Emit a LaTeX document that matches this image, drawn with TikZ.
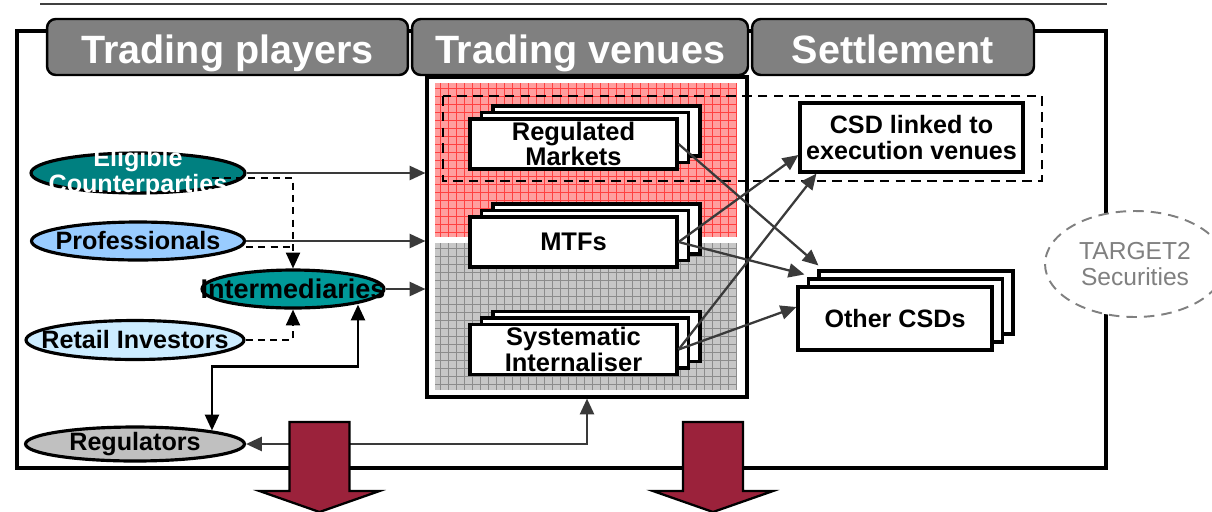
\documentclass[tikz,border=0pt]{standalone}
\usepackage{fontspec}
\setmainfont{Liberation Sans}
\usetikzlibrary{arrows.meta,shapes,shadows}

\definecolor{tabgray}{HTML}{808080}
\definecolor{ecpteal}{HTML}{008080}
\definecolor{intteal}{HTML}{009999}
\definecolor{problue}{HTML}{99CCFF}
\definecolor{retblue}{HTML}{CCECFF}
\definecolor{reggray}{HTML}{C0C0C0}
\definecolor{linkgray}{HTML}{3A3A3A}
\definecolor{bigred}{HTML}{9B223B}

\begin{document}
\begin{tikzpicture}[x=0.02cm,y=-0.02cm,>={Triangle[length=9pt,width=8pt]},
  tab/.style={draw,line width=1.4pt,fill=tabgray,rounded corners=5pt,text=white,font=\fontsize{22.5}{24}\selectfont\bfseries,
    minimum height=1.12cm,text height=19pt,text depth=0pt},
  venue/.style={draw,line width=1.8pt,fill=white,minimum width=4.14cm,minimum height=1cm,align=center,inner sep=0pt,font=\fontsize{14.5}{14.5}\selectfont\bfseries,
    copy shadow={shadow xshift=0.46cm,shadow yshift=0.26cm},copy shadow={shadow xshift=0.23cm,shadow yshift=0.13cm}},
  csd/.style={draw,line width=1.8pt,fill=white,align=center,inner sep=0pt,font=\fontsize{14.3}{14.5}\selectfont\bfseries},
  player/.style={ellipse,draw,line width=1.8pt,inner sep=0pt},
  plabel/.style={align=center,font=\fontsize{14.3}{12}\selectfont\bfseries},
  link/.style={->,draw=linkgray,line width=1.3pt},
  feed/.style={draw=black,line width=1.1pt,dash pattern=on 4pt off 3pt},
  bigarrow/.style={draw=black,line width=1.3pt,fill=bigred}]

\useasboundingbox (0,0) rectangle (1212,511);
\draw[line width=1.5pt,black!75] (40,4) -- (1107,4);
\draw[line width=1.8pt] (17,31) rectangle (1106,468);

% column headers
\node[tab,minimum width=7.22cm] (hplayers) at (227.5,47) {Trading players};
\node[tab,minimum width=6.72cm] (hvenues) at (580,47) {Trading venues};
\node[tab,minimum width=5.64cm] (hsettle) at (893,47) {Settlement};

% trading venues
\node[draw,line width=1.8pt,fill=white,minimum width=6.4cm,minimum height=6.4cm] (venues) at (587,237) {};
\fill[red!38] (435,83) rectangle (737,237);
\draw[red!75,line width=0.4pt,step=0.16cm] (435,83) grid (737,237);
\fill[black!22] (435,243) rectangle (737,390);
\draw[black!45,line width=0.4pt,step=0.16cm] (435,243) grid (737,390);

\node[venue] (rm) at (573.5,144) {Regulated\\Markets};
\node[venue] (mtf) at (573.5,242) {MTFs};
\node[venue] (si) at (573.5,349.5) {Systematic\\Internaliser};

% settlement
\draw[line width=1.2pt,dash pattern=on 5.5pt off 3.5pt] (443,96) rectangle (1042,181);
\node[csd,minimum width=4.46cm,minimum height=1.38cm] (csdlink) at (911.5,137.5) {CSD linked to\\execution venues};
\node[csd,minimum width=3.88cm,minimum height=1.26cm,
  copy shadow={shadow xshift=0.42cm,shadow yshift=0.32cm},copy shadow={shadow xshift=0.21cm,shadow yshift=0.16cm}] (other) at (895,318.5) {Other CSDs};
\node[ellipse,draw=black!50,fill=white,line width=1.1pt,dash pattern=on 6pt off 4pt,minimum width=3.6cm,minimum height=2.12cm,
  align=center,text=black!50,font=\fontsize{14}{15}\selectfont] (t2s) at (1135,264) {TARGET2\\Securities};

% trading players
\node[player,fill=ecpteal,minimum width=4.28cm,minimum height=0.8cm,label={[plabel,text=white]center:Eligible\\Counterparties}] (ecp) at (138,173) {};
\node[player,fill=problue,minimum width=4.26cm,minimum height=0.76cm,label={[plabel]center:Professionals}] (pro) at (138,241) {};
\node[player,fill=intteal,minimum width=3.64cm,minimum height=0.76cm,label={[plabel,font=\fontsize{15.4}{15}\selectfont\bfseries]center:Intermediaries}] (inter) at (293,289) {};
\node[player,fill=retblue,minimum width=4.36cm,minimum height=0.78cm,label={[plabel]center:Retail Investors}] (ret) at (135,340) {};
\node[player,fill=reggray,minimum width=4.38cm,minimum height=0.68cm,label={[plabel]center:Regulators}] (reg) at (135,444) {};

% orders to venues
\draw[link] (ecp.east) -- (ecp.east -| venues.west);
\draw[link] (pro.east) -- (pro.east -| venues.west);
\draw[link] (inter.east) -- (inter.east -| venues.west);
\draw[feed,->] ([xshift=-0.7cm,yshift=-0.1cm]ecp.east) -| (inter.north);
\draw[feed] ([yshift=-0.12cm]pro.east) -- ([yshift=-0.12cm]pro.east -| inter.north);
\draw[feed,->] (ret.east) -| (inter.south);
\draw[<->,line width=1.3pt] ([xshift=1.54cm,yshift=-0.1cm]reg.north) -- ++(0,-64) -| ([xshift=1.3cm,yshift=0.1cm]inter.south);
\draw[link,<->] (reg.east) -| (venues.south);

% venues to CSDs
\draw[link] (rm.east) -- ([xshift=0.44cm,yshift=0.4cm]other.north west);
\draw[link] (mtf.east) -- ([yshift=-0.35cm]csdlink.west);
\draw[link] (mtf.east) -- ([xshift=0.16cm,yshift=0.22cm]other.north west);
\draw[link] (si.east) -- ([xshift=0.36cm]csdlink.south west);
\draw[link] (si.east) -- ([yshift=0.23cm]other.west);

% outcome arrows
\foreach \c in {319.5,713}
  \draw[bigarrow] (\c-30,422) -- (\c+30,422) -- (\c+30,491) -- (\c+60,491) -- (\c,512) -- (\c-60,491) -- (\c-30,491) -- cycle;
\end{tikzpicture}
\end{document}
